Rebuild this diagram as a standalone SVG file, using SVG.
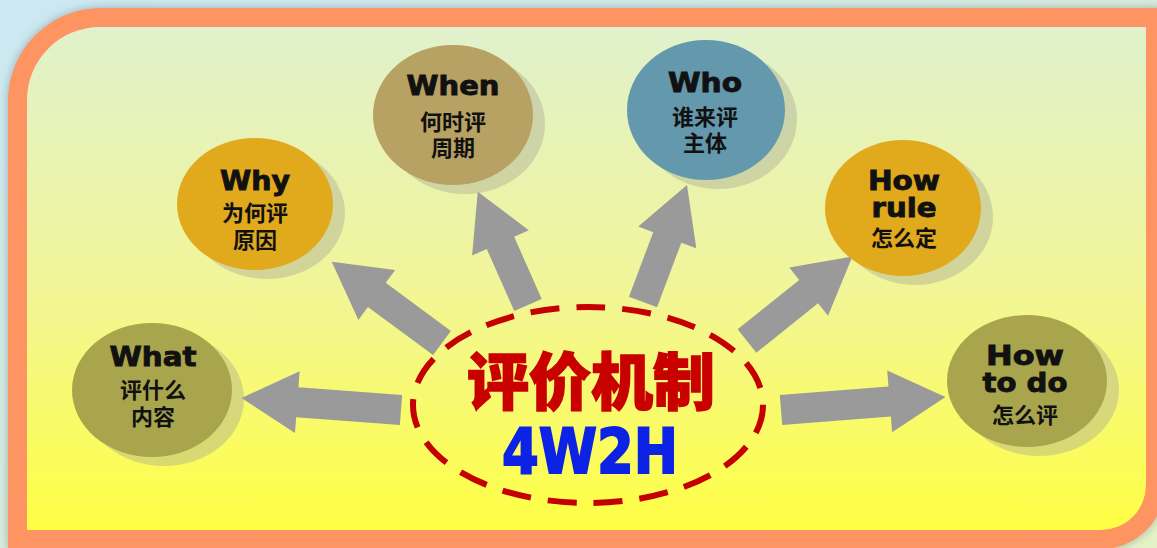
<svg xmlns="http://www.w3.org/2000/svg" width="1157" height="548" viewBox="0 0 1157 548">
<style>
.t{font-family:"DejaVu Sans","Liberation Sans",sans-serif;font-weight:bold;font-size:27px;text-anchor:middle;fill:#111;stroke:#111;stroke-width:0.9}
.c{font-family:"Noto Sans CJK SC","Noto Sans CJK JP",sans-serif;font-weight:bold;font-size:22px;text-anchor:middle;fill:#111}
.sh{fill:#a4a492;opacity:0.4}
.arr{fill:#9a9a9a}
</style>
<defs>
<linearGradient id="bg" x1="0" y1="0" x2="1" y2="1">
<stop offset="0" stop-color="#cde8f3"/>
<stop offset="1" stop-color="#e6f2c6"/>
</linearGradient>
<linearGradient id="inner" x1="0" y1="0" x2="0" y2="1">
<stop offset="0" stop-color="#e0f1cc"/>
<stop offset="0.5" stop-color="#f1f59a"/>
<stop offset="1" stop-color="#ffff44"/>
</linearGradient>
<filter id="glow" x="-5%" y="-5%" width="110%" height="110%">
<feDropShadow dx="0" dy="0" stdDeviation="5" flood-color="#5f7f88" flood-opacity="0.55"/>
</filter>
</defs>
<rect x="0" y="0" width="1157" height="548" fill="url(#bg)"/>
<g id="frame">
<path d="M8,101 A93,93 0 0 1 101,8 H1165 V485 A64,64 0 0 1 1101,549 H8 Z" fill="#fe9462" filter="url(#glow)"/>
<path d="M27,100 A73,73 0 0 1 100,27 H1146 V485 A45,45 0 0 1 1101,530 H27 Z" fill="url(#inner)"/>
</g>
<g id="connectors">
<path class="arr" transform="translate(401,410) rotate(184.3)" d="M0,-15 H104 V-31 L160,0 L104,31 V15 H0 Z"/>
<path class="arr" transform="translate(442,343) rotate(216.4)" d="M0,-15 H81 V-31 L137,0 L81,31 V15 H0 Z"/>
<path class="arr" transform="translate(528,305) rotate(246.1)" d="M0,-15 H68 V-31 L124,0 L68,31 V15 H0 Z"/>
<path class="arr" transform="translate(643,302) rotate(-69.4)" d="M0,-15 H69 V-31 L125,0 L69,31 V15 H0 Z"/>
<path class="arr" transform="translate(747,341) rotate(-38.7)" d="M0,-15 H79 V-31 L135,0 L79,31 V15 H0 Z"/>
<path class="arr" transform="translate(781,410) rotate(-4.5)" d="M0,-15 H109 V-31 L165,0 L109,31 V15 H0 Z"/>
</g>
<g id="center">
<ellipse cx="588" cy="405" rx="175" ry="98" fill="none" stroke="#c40000" stroke-width="6" stroke-dasharray="29 17"/>
<text x="591" y="405" style="font-family:'Noto Sans CJK SC','Noto Sans CJK JP',sans-serif;font-weight:900;font-size:62px;text-anchor:middle;fill:#c80000;stroke:#c80000;stroke-width:1.5">评价机制</text>
<text x="590" y="473" textLength="176" lengthAdjust="spacingAndGlyphs" style="font-family:'DejaVu Sans','Liberation Sans',sans-serif;font-weight:bold;font-size:63px;text-anchor:middle;fill:#0c22e4;stroke:#0c22e4;stroke-width:2">4W2H</text>
</g>
<g id="what">
<ellipse class="sh" cx="164" cy="399" rx="80" ry="67"/>
<ellipse cx="152" cy="390" rx="80" ry="67" fill="#a9a54d"/>
<text class="t" x="153" y="366" textLength="87" lengthAdjust="spacingAndGlyphs">What</text>
<text class="c" x="153" y="398">评什么</text>
<text class="c" x="153" y="425">内容</text>
</g>
<g id="why">
<ellipse class="sh" cx="267" cy="213" rx="78" ry="66"/>
<ellipse cx="255" cy="204" rx="78" ry="66" fill="#e1a91c"/>
<text class="t" x="255" y="190" textLength="70" lengthAdjust="spacingAndGlyphs">Why</text>
<text class="c" x="255" y="221">为何评</text>
<text class="c" x="255" y="248">原因</text>
</g>
<g id="when">
<ellipse class="sh" cx="465" cy="124" rx="80" ry="70"/>
<ellipse cx="453" cy="115" rx="80" ry="70" fill="#b7a163"/>
<text class="t" x="453" y="95" textLength="93" lengthAdjust="spacingAndGlyphs">When</text>
<text class="c" x="453" y="130">何时评</text>
<text class="c" x="453" y="156">周期</text>
</g>
<g id="who">
<ellipse class="sh" cx="718" cy="119" rx="79" ry="70"/>
<ellipse cx="706" cy="110" rx="79" ry="70" fill="#6498ad"/>
<text class="t" x="705" y="92" textLength="74" lengthAdjust="spacingAndGlyphs">Who</text>
<text class="c" x="705" y="125">谁来评</text>
<text class="c" x="705" y="151">主体</text>
</g>
<g id="howrule">
<ellipse class="sh" cx="915" cy="217" rx="78" ry="68"/>
<ellipse cx="903" cy="208" rx="78" ry="68" fill="#e1a91c"/>
<text class="t" x="904" y="190" textLength="72" lengthAdjust="spacingAndGlyphs">How</text>
<text class="t" x="904" y="217" textLength="65" lengthAdjust="spacingAndGlyphs">rule</text>
<text class="c" x="904" y="246">怎么定</text>
</g>
<g id="howtodo">
<ellipse class="sh" cx="1039" cy="390" rx="80" ry="66"/>
<ellipse cx="1027" cy="381" rx="80" ry="66" fill="#a9a54d"/>
<text class="t" x="1025" y="365" textLength="78" lengthAdjust="spacingAndGlyphs">How</text>
<text class="t" x="1025" y="392" textLength="85" lengthAdjust="spacingAndGlyphs">to do</text>
<text class="c" x="1025" y="423">怎么评</text>
</g>
</svg>
